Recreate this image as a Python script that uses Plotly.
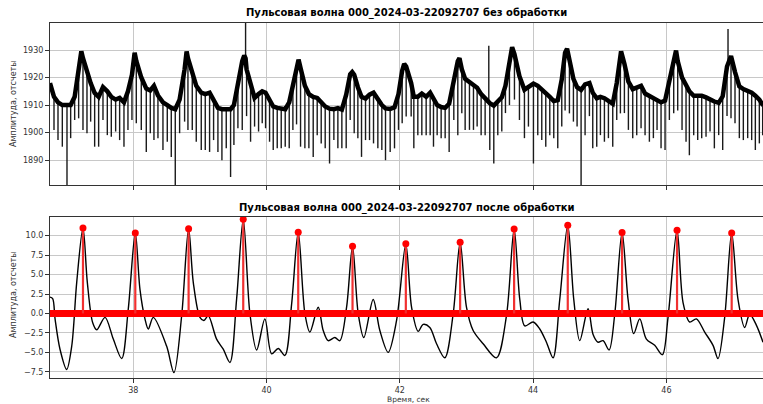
import plotly.graph_objects as go

# ---------------- filtered pulse wave (time, s / amplitude, counts) ----------------
filt_t = [36.75, 36.79, 36.826, 36.90, 37.00, 37.076, 37.151, 37.245, 37.31, 37.391,
          37.451, 37.576, 37.70, 37.826, 37.925, 38.03, 38.10, 38.175, 38.225, 38.30,
          38.50, 38.61, 38.726, 38.83, 38.90, 39.00, 39.06, 39.125, 39.25, 39.35,
          39.45, 39.551, 39.65, 39.75, 39.851, 39.975, 40.076, 40.175, 40.275, 40.376,
          40.475, 40.575, 40.65, 40.775, 40.85, 40.925, 41.025, 41.10, 41.201, 41.29,
          41.375, 41.46, 41.60, 41.70, 41.825, 41.951, 42.09, 42.176, 42.275, 42.35,
          42.45, 42.551, 42.675, 42.80, 42.905, 43.00, 43.10, 43.25, 43.45, 43.60,
          43.715, 43.80, 43.875, 44.00, 44.10, 44.20, 44.30, 44.40, 44.52, 44.61,
          44.70, 44.825, 44.90, 44.975, 45.05, 45.14, 45.225, 45.335, 45.425, 45.51,
          45.60, 45.70, 45.825, 45.94, 46.025, 46.16, 46.25, 46.35, 46.45, 46.575,
          46.70, 46.775, 46.875, 46.98, 47.075, 47.175, 47.25, 47.35, 47.45]
filt_v = [2.1, 1.9, -0.7, -4.6, -7.2, -4.2, 4.0, 11.0, 4.0, -1.2,
          -2.1, -0.5, -3.3, -5.8, 0.6, 10.35, 3.1, -0.7, -2.0, -0.5,
          -4.2, -7.6, -0.3, 10.9, 4.0, -0.5, -0.9, -0.3, -3.3, -4.6,
          -6.3, 1.9, 12.1, 0.0, -4.7, -0.7, -5.2, -4.5, -5.4, 1.2,
          10.45, 0.0, -2.4, 0.8, -2.2, -3.5, -3.1, -3.5, 0.8, 8.65,
          0.0, -3.1, 1.8, -2.2, -5.0, -0.9, 8.95, 0.8, -2.3, -1.4,
          -1.8, -3.9, -5.7, -0.1, 9.15, 0.8, -2.2, -3.9, -5.7, -0.3,
          10.85, 1.8, -1.6, -1.1, -2.0, -3.7, -5.7, 1.8, 11.35, 1.8,
          -3.5, 0.6, -2.7, -3.7, -3.5, -4.7, -0.1, 10.4, 1.8, -2.6,
          -0.7, -3.3, -4.1, -5.3, -0.5, 10.7, 1.4, -1.1, -0.7, -2.4,
          -4.1, -5.8, -0.5, 10.35, 1.8, -1.8, -0.1, -1.5, -3.7]

# detected systolic peaks
peak_t = [37.245, 38.03, 38.83, 39.65, 40.475, 41.29, 42.09, 42.905, 43.715,
          44.52, 45.335, 46.16, 46.98]
peak_v = [11.0, 10.35, 10.9, 12.1, 10.45, 8.65, 8.95, 9.15, 10.85, 11.35, 10.4,
          10.7, 10.35]

# ---------------- raw signal ----------------
# samples with a dropout: time, signal level, extreme value of the dropout
spike_t = [36.81, 36.87, 36.935, 37.005, 37.06, 37.12, 37.18, 37.245, 37.305, 37.36,
           37.42, 37.48, 37.545, 37.61, 37.67, 37.735, 37.795, 37.86, 37.92, 37.98,
           38.045, 38.12, 38.195, 38.255, 38.31, 38.37, 38.445, 38.51, 38.57, 38.63,
           38.695, 38.77, 38.82, 38.885, 38.945, 39.02, 39.08, 39.145, 39.205, 39.27,
           39.33, 39.395,
           39.46, 39.51, 39.57, 39.635, 39.685, 39.70, 39.76, 39.82, 39.88, 39.935,
           39.985, 40.045, 40.10, 40.16, 40.22, 40.28, 40.34, 40.395, 40.45, 40.51,
           40.575, 40.635, 40.70, 40.76, 40.82, 40.88, 40.945, 41.01, 41.07, 41.13,
           41.195, 41.255, 41.315, 41.37, 41.425, 41.485, 41.545, 41.605, 41.67, 41.73,
           41.785, 41.855, 41.92, 41.98, 42.035, 42.095,
           42.17, 42.21, 42.27, 42.33, 42.395, 42.455, 42.505, 42.56, 42.62, 42.68,
           42.74, 42.81, 42.87, 42.93, 42.98, 43.045, 43.105, 43.16, 43.22, 43.28,
           43.335, 43.35, 43.41, 43.47, 43.53, 43.585, 43.645, 43.72, 43.795, 43.87,
           43.93, 44.005, 44.07, 44.13, 44.19, 44.25, 44.31, 44.37, 44.43, 44.48,
           44.545, 44.605, 44.66, 44.72, 44.78,
           44.845, 44.895, 44.955, 45.01, 45.07, 45.13, 45.195, 45.255, 45.31, 45.37,
           45.43, 45.495, 45.555, 45.62, 45.68, 45.745, 45.805, 45.86, 45.92, 45.98,
           46.045, 46.11, 46.17, 46.235, 46.295, 46.345, 46.41, 46.47, 46.53, 46.595,
           46.655, 46.72, 46.785, 46.845, 46.91, 46.925, 46.97, 47.03, 47.095, 47.155,
           47.22, 47.28, 47.335, 47.395, 47.445]
spike_level = [1913, 1911, 1910, 1910, 1910, 1913, 1923, 1927, 1922, 1918,
               1914.4, 1913, 1916.5, 1915, 1913, 1912, 1912.6, 1911, 1915, 1921,
               1926, 1920, 1916, 1915.3, 1917, 1913.5, 1911, 1910, 1909, 1908.5,
               1912, 1923, 1927, 1921, 1917, 1914.5, 1914, 1914.5, 1911.5, 1909,
               1908.5, 1908.5,
               1908.5, 1910, 1918, 1926, 1927, 1923, 1917, 1912.6, 1914, 1915,
               1914.5, 1912, 1909.5, 1909, 1908.8, 1908.5, 1911, 1917, 1924, 1923.5,
               1917, 1914, 1913, 1912.6, 1911, 1909.5, 1908.7, 1908.5, 1908.9, 1908.4,
               1913.8, 1921.2, 1921, 1916.5, 1913, 1912.4, 1913.8, 1914.5, 1912, 1910,
               1908.8, 1908.6, 1909.2, 1914, 1922.5, 1924,
               1918, 1913, 1913, 1914.2, 1913, 1914.5, 1912, 1910, 1909.3, 1909,
               1910.5, 1919, 1926, 1923, 1919.5, 1918.3, 1917.5, 1916.3, 1914, 1912.3,
               1911, 1910.7, 1909.8, 1911.3, 1912.8, 1917, 1926.6, 1928.5, 1920.5, 1915.6,
               1916.5, 1917.8, 1917, 1915.8, 1914.5, 1913, 1911.5, 1911.8, 1919.3, 1929,
               1926, 1919.5, 1916.5, 1915.5, 1917.5,
               1918, 1914.5, 1912.5, 1913, 1912.5, 1911.5, 1910.5, 1918, 1928, 1925,
               1918.5, 1915.8, 1916.5, 1917, 1914.2, 1913.4, 1912.5, 1912.1, 1911, 1911.6,
               1918.5, 1927, 1926, 1920, 1917.3, 1915, 1913.4, 1913.6, 1913.4, 1912.8,
               1911.9, 1911.3, 1910.8, 1913.2, 1924, 1925, 1927.8, 1922, 1916.8, 1915.8,
               1915.1, 1914.5, 1913.4, 1912, 1910.1]
spike_ext = [1901, 1897.3, 1894.9, 1881, 1898, 1904.6, 1905.2, 1901, 1899.8, 1904,
             1894.9, 1894.9, 1904.6, 1899.1, 1898.5, 1900.4, 1897.3, 1894.9, 1901, 1904.6,
             1903.4, 1901, 1893, 1899.8, 1897.3, 1898, 1893.7, 1896.7, 1891.2, 1881,
             1899.8, 1904, 1901, 1901, 1896.7, 1893.7, 1893.7, 1893, 1897.3, 1893,
             1890, 1894.3,
             1883.9, 1895.5, 1901.6, 1901, 1939.8, 1906, 1896.7, 1902.2, 1900.4, 1903.4,
             1901.6, 1896.7, 1893.7, 1894.3, 1894.3, 1894.9, 1894.3, 1901, 1903, 1894.9,
             1894.3, 1894.3, 1891.2, 1899.1, 1896.1, 1894.3, 1888.8, 1897.3, 1894.3, 1894.3,
             1894.3, 1904.6, 1899.8, 1898, 1891.2, 1897.3, 1897.3, 1896.1, 1894.3, 1893.7,
             1890, 1893, 1894.3, 1901, 1903.4, 1905.9,
             1905.9, 1894.3, 1899.1, 1899.1, 1899.1, 1899.1, 1894.9, 1899.1, 1898, 1898,
             1893, 1904.6, 1899.1, 1907, 1901, 1901, 1901, 1902.2, 1899.1, 1899.1,
             1931.5, 1893.7, 1888.8, 1899.1, 1900.4, 1907.1, 1910, 1912, 1904.6, 1898,
             1902.2, 1888.8, 1899.1, 1897.3, 1894.9, 1899.1, 1898, 1894.3, 1902.2, 1908,
             1907, 1904, 1902.2, 1881, 1899.1,
             1906, 1894.3, 1894.9, 1899.1, 1896.7, 1898, 1894.9, 1904.6, 1907, 1907.1,
             1901, 1898, 1899.1, 1901.6, 1899.1, 1896.7, 1898, 1901, 1894.3, 1893.7,
             1904.6, 1907, 1908, 1901, 1896.7, 1891.8, 1899.1, 1897.3, 1898, 1898.5,
             1900.4, 1894.3, 1899.1, 1893.7, 1906, 1937.6, 1905.2, 1903.4, 1898, 1897.3,
             1898, 1897.3, 1893.7, 1896.1, 1899.1]

# further samples of the signal level (start, end and pulse tops)
level_t = [36.75, 36.78, 37.22, 38.02, 38.80, 39.665, 40.48, 41.285, 42.065, 42.895,
           43.685, 44.51, 45.32, 46.145, 47.45]
level_v = [1918, 1916, 1929.5, 1929, 1929.5, 1928, 1926.5, 1922, 1925, 1927,
           1931, 1930.5, 1929.5, 1929.8, 1910]

TITLE_RAW = "Пульсовая волна 000_2024-03-22092707 без обработки"
TITLE_FILT = "Пульсовая волна 000_2024-03-22092707 после обработки"
Y_LABEL = "Амплитуда, отсчеты"
X_LABEL = "Время, сек"
X_TICKS = [38, 40, 42, 44, 46]
Y_TICKS_RAW = [1890, 1900, 1910, 1920, 1930]
Y_TICKS_FILT = [-7.5, -5.0, -2.5, 0.0, 2.5, 5.0, 7.5, 10.0]

FONT = "DejaVu Sans"
W, H = 763, 404

# ---------------- traces ----------------
level = sorted(list(zip(spike_t, spike_level)) + list(zip(level_t, level_v)))
lvl_x = [p[0] for p in level]
lvl_y = [p[1] for p in level]

seg_x, seg_y = [], []
for t, a, b in zip(spike_t, spike_level, spike_ext):
    seg_x += [t, t, None]
    seg_y += [a, b, None]

stem_x, stem_y = [], []
for t, v in zip(peak_t, peak_v):
    stem_x += [t, t, None]
    stem_y += [0, v, None]

fig = go.Figure()
fig.add_trace(go.Scatter(x=seg_x, y=seg_y, mode="lines",
                         line=dict(color="#1a1a1a", width=1.4),
                         xaxis="x", yaxis="y", hoverinfo="skip"))
fig.add_trace(go.Scatter(x=lvl_x, y=lvl_y, mode="lines",
                         line=dict(color="black", width=4.5),
                         xaxis="x", yaxis="y"))

fig.add_trace(go.Scatter(x=filt_t, y=filt_v, mode="lines",
                         line=dict(color="black", width=1.4, shape="spline", smoothing=0.9),
                         xaxis="x2", yaxis="y2"))
fig.add_trace(go.Scatter(x=[filt_t[0], filt_t[-1]], y=[0, 0], mode="lines",
                         line=dict(color="#ff0000", width=7),
                         xaxis="x2", yaxis="y2", hoverinfo="skip"))
fig.add_trace(go.Scatter(x=stem_x, y=stem_y, mode="lines",
                         line=dict(color="#f03030", width=2.2),
                         xaxis="x2", yaxis="y2", hoverinfo="skip"))
fig.add_trace(go.Scatter(x=peak_t, y=peak_v, mode="markers",
                         marker=dict(color="#ff0000", size=7),
                         xaxis="x2", yaxis="y2"))

x_dom = [50 / W, 1.0]
top_dom = [1 - 185 / H, 1 - 23 / H]
bot_dom = [1 - 378 / H, 1 - 217 / H]
x_range = [36.75, 47.45]

axis_common = dict(showline=True, mirror=True, linecolor="#333", linewidth=1,
                   showgrid=True, gridcolor="#c8c8c8", gridwidth=1, zeroline=False,
                   ticks="outside", ticklen=4, tickcolor="#333",
                   tickfont=dict(family=FONT, size=8, color="#333"))

fig.update_layout(
    width=W, height=H, margin=dict(l=0, r=0, t=0, b=0, pad=0),
    paper_bgcolor="white", plot_bgcolor="white", showlegend=False,
    font=dict(family=FONT),
    xaxis=dict(domain=x_dom, anchor="y", range=x_range, tickvals=X_TICKS,
               showticklabels=False, **axis_common),
    yaxis=dict(domain=top_dom, anchor="x", range=[1881, 1939.8], tickvals=Y_TICKS_RAW,
               **axis_common),
    xaxis2=dict(domain=x_dom, anchor="y2", range=x_range, tickvals=X_TICKS,
                **axis_common),
    yaxis2=dict(domain=bot_dom, anchor="x2", range=[-8.3, 12.4], tickvals=Y_TICKS_FILT,
                tickformat=".1f", **axis_common),
    annotations=[
        dict(text="<b>" + TITLE_RAW + "</b>", xref="paper", yref="paper",
             x=406.5 / W, y=1 - 13 / H, xanchor="center", yanchor="middle",
             showarrow=False, font=dict(family=FONT, size=10, color="black")),
        dict(text="<b>" + TITLE_FILT + "</b>", xref="paper", yref="paper",
             x=406.5 / W, y=1 - 208 / H, xanchor="center", yanchor="middle",
             showarrow=False, font=dict(family=FONT, size=10, color="black")),
        dict(text=Y_LABEL, xref="paper", yref="paper", x=13 / W, y=1 - 104 / H,
             xanchor="center", yanchor="middle", textangle=-90, showarrow=False,
             font=dict(family=FONT, size=8, color="#333")),
        dict(text=Y_LABEL, xref="paper", yref="paper", x=13 / W, y=1 - 295 / H,
             xanchor="center", yanchor="middle", textangle=-90, showarrow=False,
             font=dict(family=FONT, size=8, color="#333")),
        dict(text=X_LABEL, xref="paper", yref="paper", x=408 / W, y=1 - 399.5 / H,
             xanchor="center", yanchor="middle", showarrow=False,
             font=dict(family=FONT, size=7.5, color="#333")),
    ],
)

fig.write_html("out.html")
